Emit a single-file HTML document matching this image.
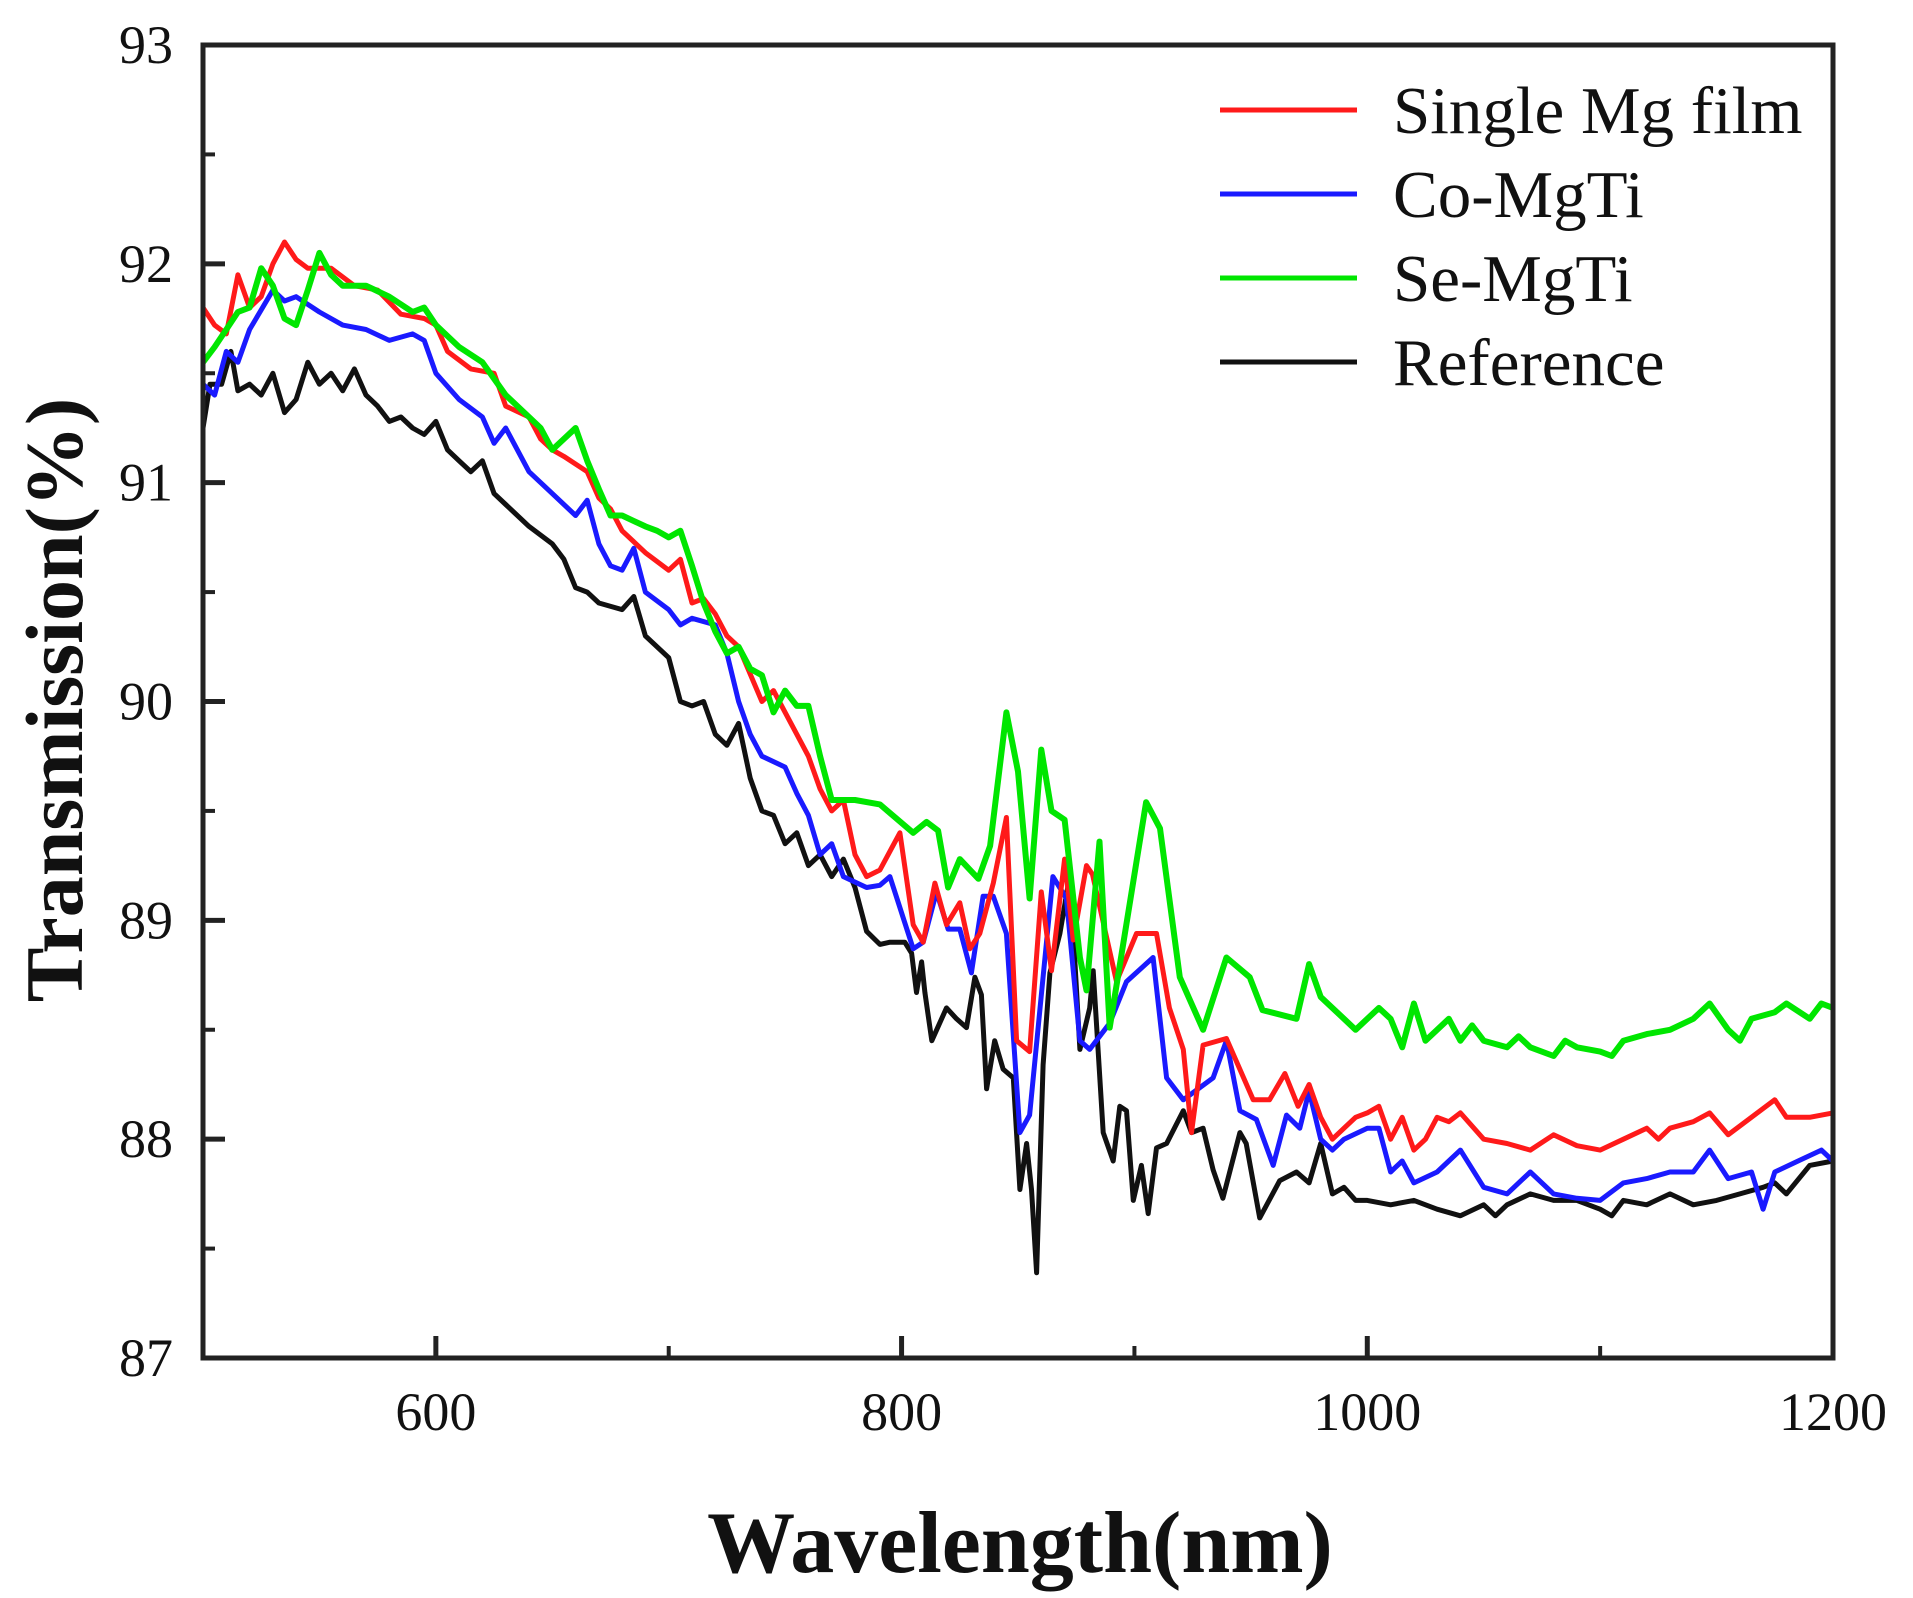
<!DOCTYPE html>
<html><head><meta charset="utf-8"><style>
html,body{margin:0;padding:0;background:#fff;}
svg{display:block;}
text{font-family:"Liberation Serif",serif;fill:#111;}
</style></head><body>
<svg id="chart" width="1913" height="1598" viewBox="0 0 1913 1598" xmlns="http://www.w3.org/2000/svg">
<g id="plot"></g>
<g id="axes"></g>
<g id="legend"></g>
<text transform="translate(82,700) rotate(-90)" text-anchor="middle" font-size="82" font-weight="bold">Transmission(%)</text>
<text x="1020" y="1572" text-anchor="middle" font-size="88" font-weight="bold">Wavelength(nm)</text>
</svg>
<script>
const xTicks=[600,800,1000,1200];
const xMinor=[500,700,900,1100];
const yTicks=[87,88,89,90,91,92,93];
const seriesNames=["Single Mg film","Co-MgTi","Se-MgTi","Reference"];
const seriesColors=["#ff1a1a","#1a1aff","#00e600","#111111"];

const redX=[500,505,510,515,520,525,530,535,540,545,555,565,575,585,595,600,605,615,625,630,640,645,650,655,665,670,675,680,690,700,705,710,715,720,725,730,740,745,755,760,765,770,775,780,785,790.7,799.3,805,809.3,814.3,819.3,825,829.3,833.6,839.4,845,849.4,855,860,864.4,870,873.7,879.4,882,892.3,900.9,909.5,915,921,924.5,929.5,939.5,951,958,964.6,970.3,975,980,985,990,995,1000,1005,1010,1015,1020,1025,1030,1035,1040,1050,1060,1070,1080,1090,1100,1110,1120,1125,1130,1140,1147,1155,1165,1175,1180,1190,1200];
const redY=[91.8,91.72,91.68,91.95,91.8,91.85,92.0,92.1,92.02,91.98,91.98,91.9,91.88,91.77,91.75,91.72,91.6,91.52,91.5,91.35,91.3,91.2,91.15,91.12,91.05,90.93,90.88,90.78,90.68,90.6,90.65,90.45,90.47,90.4,90.3,90.25,90.0,90.05,89.85,89.75,89.6,89.5,89.55,89.3,89.2,89.23,89.4,88.98,88.9,89.17,88.98,89.08,88.87,88.94,89.17,89.47,88.45,88.4,89.13,88.77,89.28,88.91,89.25,89.21,88.72,88.94,88.94,88.6,88.41,88.03,88.43,88.46,88.18,88.18,88.3,88.15,88.25,88.1,88.0,88.05,88.1,88.12,88.15,88.0,88.1,87.95,88.0,88.1,88.08,88.12,88.0,87.98,87.95,88.02,87.97,87.95,88.0,88.05,88.0,88.05,88.08,88.12,88.02,88.1,88.18,88.1,88.1,88.12];

const blueX=[500,505,510,515,520,530,535,540,550,560,570,580,590,595,600,610,620,625,630,640,650,660,665,670,675,680,685,690,700,705,710,720,725,730,735,740,750,755,760,765,770,775,785,790.7,795,805,809.3,815,820,825,830,835,839.4,845,850.8,855,865,870.8,876.6,880.8,889.4,896.6,908,913.8,921,933.8,939.5,945.3,952.4,959.6,965.3,971,975,980,985,990,1000,1005,1010,1015,1020,1030,1035,1040,1050,1060,1070,1080,1090,1100,1110,1120,1130,1140,1147,1155,1165,1170,1175,1185,1195,1200];
const blueY=[91.45,91.4,91.6,91.55,91.7,91.88,91.83,91.85,91.78,91.72,91.7,91.65,91.68,91.65,91.5,91.38,91.3,91.18,91.25,91.05,90.95,90.85,90.92,90.72,90.62,90.6,90.7,90.5,90.42,90.35,90.38,90.35,90.22,90.0,89.85,89.75,89.7,89.58,89.48,89.3,89.35,89.2,89.15,89.16,89.2,88.87,88.9,89.13,88.96,88.96,88.76,89.11,89.11,88.94,88.03,88.11,89.2,89.1,88.45,88.41,88.53,88.72,88.83,88.28,88.18,88.28,88.45,88.13,88.09,87.88,88.11,88.05,88.22,88.0,87.95,88.0,88.05,88.05,87.85,87.9,87.8,87.85,87.9,87.95,87.78,87.75,87.85,87.75,87.73,87.72,87.8,87.82,87.85,87.85,87.95,87.82,87.85,87.68,87.85,87.9,87.95,87.9];

const greenX=[500,505,510,515,520,525,530,535,540,545,550,555,560,570,580,590,595,600,610,620,630,640,645,650,655,660,665,670,675,680,690,695,700,705,710,715,720,725,730,735,740,745,750,755,760,765,770,780,790.7,805,810.7,815.7,820,825,833,838,845,850,855,860,864.4,870,876.6,879.4,885,889.4,905,911,919.5,929.5,939.5,949.5,955,969.6,975,980,985,990,995,1000,1005,1010,1015,1020,1025,1030,1035,1040,1045,1050,1060,1065,1070,1080,1085,1090,1100,1105,1110,1120,1130,1140,1147,1155,1160,1165,1175,1180,1190,1195,1200];
const greenY=[91.55,91.62,91.7,91.78,91.8,91.98,91.9,91.75,91.72,91.88,92.05,91.95,91.9,91.9,91.85,91.78,91.8,91.72,91.62,91.55,91.4,91.3,91.25,91.15,91.2,91.25,91.1,90.97,90.85,90.85,90.8,90.78,90.75,90.78,90.62,90.45,90.32,90.22,90.25,90.15,90.12,89.95,90.05,89.98,89.98,89.75,89.55,89.55,89.53,89.4,89.45,89.41,89.15,89.28,89.19,89.34,89.95,89.68,89.1,89.78,89.5,89.46,88.83,88.68,89.36,88.51,89.54,89.42,88.74,88.5,88.83,88.74,88.59,88.55,88.8,88.65,88.6,88.55,88.5,88.55,88.6,88.55,88.42,88.62,88.45,88.5,88.55,88.45,88.52,88.45,88.42,88.47,88.42,88.38,88.45,88.42,88.4,88.38,88.45,88.48,88.5,88.55,88.62,88.5,88.45,88.55,88.58,88.62,88.55,88.62,88.6];

const blackX=[500,503,508,512,515,520,525,530,535,540,545,550,555,560,565,570,575,580,585,590,595,600,605,610,615,620,625,630,640,650,655,660,665,670,680,685,690,700,705,710,715,720,725,730,735,740,745,750,755,760,765,770,775,780,785,790.7,795,801.4,804.3,806.4,808.6,810,813,819.3,823.6,827.9,831.5,834.3,836.5,840,843.6,848,850.8,853.7,855.8,858,860.8,863.7,868,872.3,876.6,880.8,882.3,886.6,890.9,893.7,896.6,899.5,903,905.9,909.5,913.8,921,924.5,929.5,933.8,938,945.3,948,953.8,962.4,969.6,975,980,985,990,995,1000,1010,1020,1030,1040,1050,1055,1060,1070,1080,1090,1100,1105,1110,1120,1130,1140,1150,1160,1170,1175,1180,1190,1200];
const blackY=[91.25,91.45,91.45,91.6,91.42,91.45,91.4,91.5,91.32,91.38,91.55,91.45,91.5,91.42,91.52,91.4,91.35,91.28,91.3,91.25,91.22,91.28,91.15,91.1,91.05,91.1,90.95,90.9,90.8,90.72,90.65,90.52,90.5,90.45,90.42,90.48,90.3,90.2,90.0,89.98,90.0,89.85,89.8,89.9,89.65,89.5,89.48,89.35,89.4,89.25,89.3,89.2,89.28,89.15,88.95,88.89,88.9,88.9,88.85,88.67,88.81,88.67,88.45,88.6,88.55,88.51,88.74,88.66,88.23,88.45,88.32,88.28,87.77,87.98,87.77,87.39,88.34,88.76,88.94,89.21,88.41,88.6,88.77,88.03,87.9,88.15,88.13,87.72,87.88,87.66,87.96,87.98,88.13,88.03,88.05,87.86,87.73,88.03,87.98,87.64,87.81,87.85,87.8,87.98,87.75,87.78,87.72,87.72,87.7,87.72,87.68,87.65,87.7,87.65,87.7,87.75,87.72,87.72,87.68,87.65,87.72,87.7,87.75,87.7,87.72,87.75,87.78,87.8,87.75,87.88,87.9];

const NS="http://www.w3.org/2000/svg";
const L=203,R=1833,T=45,B=1358;
function xs(v){return L+(v-500)/(1200-500)*(R-L);}
function ys(v){return B-(v-87)/(93-87)*(B-T);}
function mk(tag,attrs,parent){const e=document.createElementNS(NS,tag);for(const k in attrs)e.setAttribute(k,attrs[k]);parent.appendChild(e);return e;}

const plot=document.getElementById('plot');
const allX=[redX,blueX,greenX,blackX];
const allY=[redY,blueY,greenY,blackY];
const keys=['single-mg-film','co-mgti','se-mgti','reference'];
[3,1,0,2].forEach(i=>{
  const d=allX[i].map((x,j)=>(j?'L':'M')+xs(x).toFixed(1)+','+ys(allY[i][j]).toFixed(1)).join(' ');
  const p=mk('path',{d:d,fill:'none',stroke:seriesColors[i],'stroke-width':i==2?6:5,'stroke-linejoin':'round'},plot);
  
  
});

const axes=document.getElementById('axes');
const frame=mk('rect',{x:L,y:T,width:R-L,height:B-T,fill:'none',stroke:'#222','stroke-width':5},axes);


xTicks.forEach(v=>{
  const t=mk('line',{x1:xs(v),x2:xs(v),y1:B,y2:B-22,stroke:'#222','stroke-width':5},axes);
  
  
  const lb=mk('text',{x:xs(v),y:B+72,'text-anchor':'middle','font-size':54},axes);
  lb.textContent=v;
  
  
});
xMinor.forEach(v=>{
  const t=mk('line',{x1:xs(v),x2:xs(v),y1:B,y2:B-12,stroke:'#222','stroke-width':4},axes);
  
  
});
yTicks.forEach(v=>{
  const t=mk('line',{x1:L,x2:L+22,y1:ys(v),y2:ys(v),stroke:'#222','stroke-width':5},axes);
  
  
  if(v<93){
    const m=mk('line',{x1:L,x2:L+12,y1:ys(v+0.5),y2:ys(v+0.5),stroke:'#222','stroke-width':4},axes);
    
    
  }
  const lb=mk('text',{x:L-30,y:ys(v)+18,'text-anchor':'end','font-size':54},axes);
  lb.textContent=v;
  
  
});

const legend=document.getElementById('legend');
seriesNames.forEach((n,i)=>{
  const y=110+i*84;
  const g=mk('g',{},legend);
  
  
  mk('line',{x1:1220,x2:1357,y1:y,y2:y,stroke:seriesColors[i],'stroke-width':5},g);
  const t=mk('text',{x:1393,y:y+23,'font-size':67},g);
  t.textContent=n;
});
</script>
</body></html>
